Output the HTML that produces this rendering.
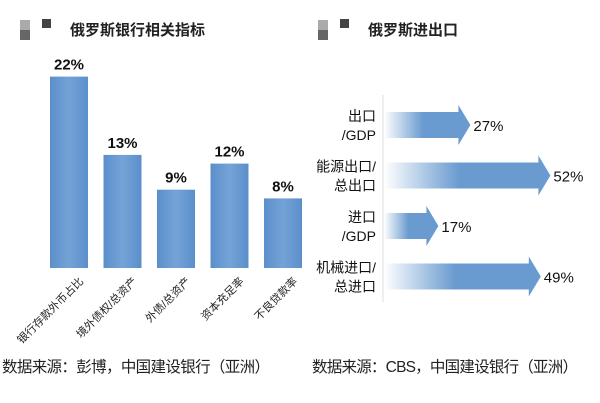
<html><head><meta charset="utf-8"><style>
body{margin:0;width:600px;height:403px;background:#fff;overflow:hidden;font-family:"Liberation Sans","Noto Sans CJK SC",sans-serif}
</style></head><body>
<svg width="600" height="403" xmlns="http://www.w3.org/2000/svg" font-family="Liberation Sans, Noto Sans CJK SC, sans-serif">
<defs>
<linearGradient id="ag" x1="0" x2="1" y1="0" y2="0">
<stop offset="0" stop-color="#6a9bd0" stop-opacity="0"/>
<stop offset="0.45" stop-color="#6a9bd0" stop-opacity="1"/>
<stop offset="1" stop-color="#6a9bd0"/>
</linearGradient>
<linearGradient id="bg" x1="0" x2="1"><stop offset="0" stop-color="#5b8fcb"/><stop offset="0.5" stop-color="#74a3d6"/><stop offset="1" stop-color="#5b8fcb"/></linearGradient>
</defs>
<g>
<rect x="20" y="20" width="10" height="10" fill="#aaa"/><rect x="20" y="30" width="10" height="10" fill="#666"/><rect x="42" y="19" width="9" height="9" fill="#444"/>
</g>
<text x="70" y="35" font-size="15" font-weight="bold" fill="#222">俄罗斯银行相关指标</text>
<g>
<rect x="318" y="20" width="10" height="10" fill="#aaa"/><rect x="318" y="30" width="10" height="10" fill="#666"/><rect x="340" y="19" width="9" height="9" fill="#444"/>
</g>
<text x="368" y="35" font-size="15" font-weight="bold" fill="#222">俄罗斯进出口</text>
<g id="bars"></g>
<line x1="383" y1="95" x2="383" y2="302" stroke="#ddd" stroke-width="1"/>
<g id="arrows"></g>
<text x="2" y="372" font-size="15.5" fill="#222" textLength="268">数据来源：彭博，中国建设银行（亚洲）</text>
<text x="312" y="372" font-size="15.5" fill="#222" textLength="266">数据来源：CBS，中国建设银行（亚洲）</text>
</svg>
<script>
const barCats=["银行存款外币占比","境外债权/总资产","外债/总资产","资本充足率","不良贷款率"];
const barVals=[22,13,9,12,8];
const arrowCats=[["出口","/GDP"],["能源出口/","总出口"],["进口","/GDP"],["机械进口/","总进口"]];
const arrowVals=[27,52,17,49];
const NS="http://www.w3.org/2000/svg";
function mk(t,a,p){const e=document.createElementNS(NS,t);for(const k in a)e.setAttribute(k,a[k]);p.appendChild(e);return e;}
const base=268,ky=8.7;
const yB=v=>base-v*ky;
const bg=document.getElementById('bars');
barCats.forEach((c,i)=>{
 const x=50+i*53.5, w=38, top=yB(barVals[i]);
 const r=mk('rect',{x:x,y:top,width:w,height:base-top,fill:'url(#bg)'},bg);
 
 
 const t=mk('text',{x:x+w/2,y:top-7,'font-size':15,'font-weight':'bold','text-anchor':'middle',fill:'#111'},bg);
 t.textContent=barVals[i]+'%';
 
 
 const lx=x+w-4, ly=base+14;
 const l=mk('text',{x:lx,y:ly,'font-size':11,'text-anchor':'end',fill:'#222',transform:`rotate(-45 ${lx} ${ly})`},bg);
 l.textContent=c;
 
 
});
const ag=document.getElementById('arrows');
const x0=384,kx=3.2;
const xA=v=>x0+v*kx;
arrowCats.forEach((c,i)=>{
 const cy=125+i*50.5, tip=xA(arrowVals[i]), hl=12, bh=13, hh=20;
 const p=mk('path',{d:`M${x0} ${cy-bh}H${tip-hl}V${cy-hh}L${tip} ${cy}L${tip-hl} ${cy+hh}V${cy+bh}H${x0}Z`,fill:'url(#ag)'},ag);
 
 
 const t=mk('text',{x:tip+3,y:cy+6,'font-size':15,fill:'#111'},ag);
 t.textContent=arrowVals[i]+'%';
 
 
 c.forEach((s,j)=>{
  const l=mk('text',{x:376,y:cy-4+j*19,'font-size':14,'text-anchor':'end',fill:'#111'},ag);
  l.textContent=s;
  
  
 });
});
</script>
</body></html>
